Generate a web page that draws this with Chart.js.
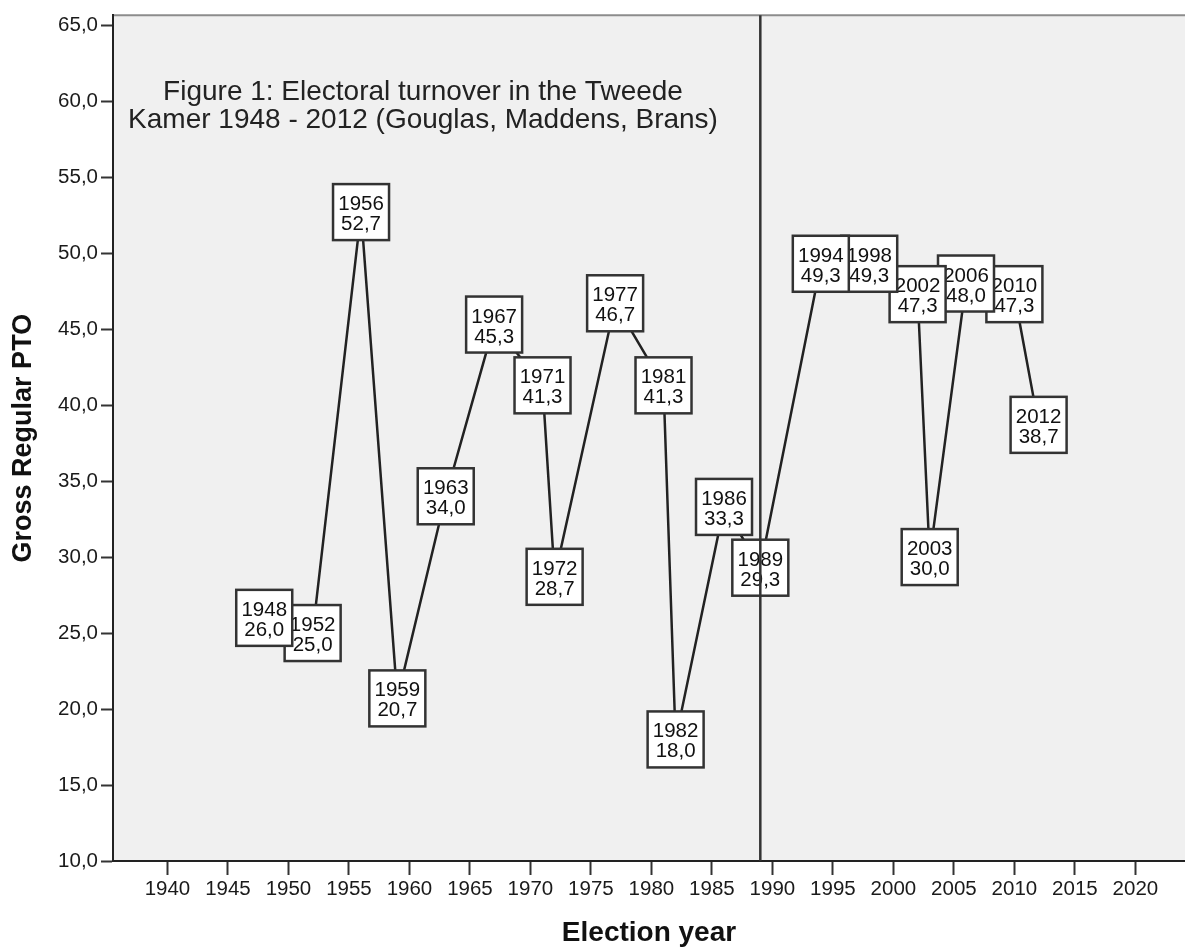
<!DOCTYPE html>
<html lang="en">
<head>
    <meta charset="UTF-8">
    <title>Electoral turnover in the Tweede Kamer</title>
    <script src="https://cdn.jsdelivr.net/npm/chart.js"></script>
    <style>
        body {
            margin: 0;
            background: #fff;
        }
        canvas {
            display: block;
        }
    </style>
</head>
<body>
    <canvas id="ptoChart" width="1185" height="951"></canvas>

    <script>
        // election years and gross regular PTO
        const years = [1948, 1952, 1956, 1959, 1963, 1967, 1971, 1972, 1977, 1981,
                       1982, 1986, 1989, 1994, 1998, 2002, 2003, 2006, 2010, 2012];
        const pto = [26.0, 25.0, 52.7, 20.7, 34.0, 45.3, 41.3, 28.7, 46.7, 41.3,
                     18.0, 33.3, 29.3, 49.3, 49.3, 47.3, 30.0, 48.0, 47.3, 38.7];

        const xTicks = [1940, 1945, 1950, 1955, 1960, 1965, 1970, 1975, 1980,
                        1985, 1990, 1995, 2000, 2005, 2010, 2015, 2020];
        const yTicks = [10, 15, 20, 25, 30, 35, 40, 45, 50, 55, 60, 65];
        const refYear = 1989;

        const titleLines = ['Figure 1: Electoral turnover in the Tweede',
                            'Kamer 1948 - 2012 (Gouglas, Maddens, Brans)'];

        const FONT = "'Liberation Sans', Arial, sans-serif";

        const fmt = v => v.toFixed(1).replace('.', ',');

        // grey plot area, top border, title inside the plot
        const plotBg = {
            id: 'plotBg',
            beforeDraw(chart) {
                const { ctx, chartArea: a } = chart;
                ctx.save();
                ctx.fillStyle = '#f0f0f0';
                ctx.fillRect(a.left, a.top, a.right - a.left, a.bottom - a.top);
                ctx.strokeStyle = '#8c8c8c';
                ctx.lineWidth = 2;
                ctx.beginPath();
                ctx.moveTo(a.left, a.top);
                ctx.lineTo(a.right, a.top);
                ctx.stroke();

                ctx.fillStyle = '#222';
                ctx.font = '28px ' + FONT;
                ctx.textAlign = 'center';
                ctx.textBaseline = 'alphabetic';
                ctx.fillText(titleLines[0], a.left + 310, a.top + 85);
                ctx.fillText(titleLines[1], a.left + 310, a.top + 113);
                ctx.restore();
            }
        };

        // boxed labels on every point, then the reference line on top
        const pointLabels = {
            id: 'pointLabels',
            afterDatasetsDraw(chart) {
                const { ctx, chartArea: a } = chart;
                const meta = chart.getDatasetMeta(0);
                ctx.save();
                ctx.font = '20.5px ' + FONT;
                ctx.textAlign = 'center';
                ctx.textBaseline = 'alphabetic';
                for (let i = meta.data.length - 1; i >= 0; i--) {
                    const p = meta.data[i];
                    const w = 56, h = 56;
                    ctx.fillStyle = '#fff';
                    ctx.fillRect(p.x - w / 2, p.y - h / 2, w, h);
                    ctx.strokeStyle = '#333';
                    ctx.lineWidth = 2.5;
                    ctx.strokeRect(p.x - w / 2, p.y - h / 2, w, h);
                    ctx.fillStyle = '#111';
                    ctx.fillText(String(years[i]), p.x, p.y - 2);
                    ctx.fillText(fmt(pto[i]), p.x, p.y + 18);
                }

                const rx = chart.scales.x.getPixelForValue(refYear);
                ctx.strokeStyle = '#333';
                ctx.lineWidth = 2.5;
                ctx.beginPath();
                ctx.moveTo(rx, a.top);
                ctx.lineTo(rx, a.bottom);
                ctx.stroke();
                ctx.restore();
            }
        };

        const ctx = document.getElementById('ptoChart').getContext('2d');
        new Chart(ctx, {
            type: 'scatter',
            data: {
                datasets: [{
                    data: years.map((y, i) => ({ x: y, y: pto[i] })),
                    showLine: true,
                    borderColor: '#222',
                    borderWidth: 2.5,
                    pointRadius: 0,
                    pointHoverRadius: 0
                }]
            },
            options: {
                responsive: false,
                animation: false,
                events: [],
                layout: { padding: { top: 10, right: 0, bottom: 0, left: 0 } },
                plugins: {
                    legend: { display: false },
                    tooltip: { enabled: false }
                },
                scales: {
                    x: {
                        type: 'linear',
                        min: 1935.5,
                        max: 2024.1,
                        afterBuildTicks: s => { s.ticks = xTicks.map(v => ({ value: v })); },
                        afterFit: s => { s.height = 90; },
                        grid: {
                            drawOnChartArea: false,
                            tickLength: 14,
                            tickWidth: 2,
                            tickColor: '#333'
                        },
                        border: { color: '#222', width: 2 },
                        ticks: {
                            font: { family: FONT, size: 20.5 },
                            color: '#1a1a1a',
                            padding: 2,
                            maxRotation: 0,
                            autoSkip: false,
                            callback: v => String(v)
                        },
                        title: {
                            display: true,
                            text: 'Election year',
                            font: { family: FONT, size: 28, weight: 'bold' },
                            color: '#111',
                            padding: { top: 0, bottom: 1 }
                        }
                    },
                    y: {
                        min: 10,
                        max: 65.65,
                        afterBuildTicks: s => { s.ticks = yTicks.map(v => ({ value: v })); },
                        afterFit: s => { s.width = 113; },
                        grid: {
                            drawOnChartArea: false,
                            tickLength: 12,
                            tickWidth: 2,
                            tickColor: '#333'
                        },
                        border: { color: '#222', width: 2 },
                        ticks: {
                            font: { family: FONT, size: 20.5 },
                            color: '#1a1a1a',
                            padding: 3,
                            callback: v => fmt(v)
                        },
                        title: {
                            display: true,
                            text: 'Gross Regular PTO',
                            font: { family: FONT, size: 27, weight: 'bold' },
                            color: '#111',
                            padding: { top: 7, bottom: 0 }
                        }
                    }
                }
            },
            plugins: [plotBg, pointLabels]
        });
    </script>
</body>
</html>
